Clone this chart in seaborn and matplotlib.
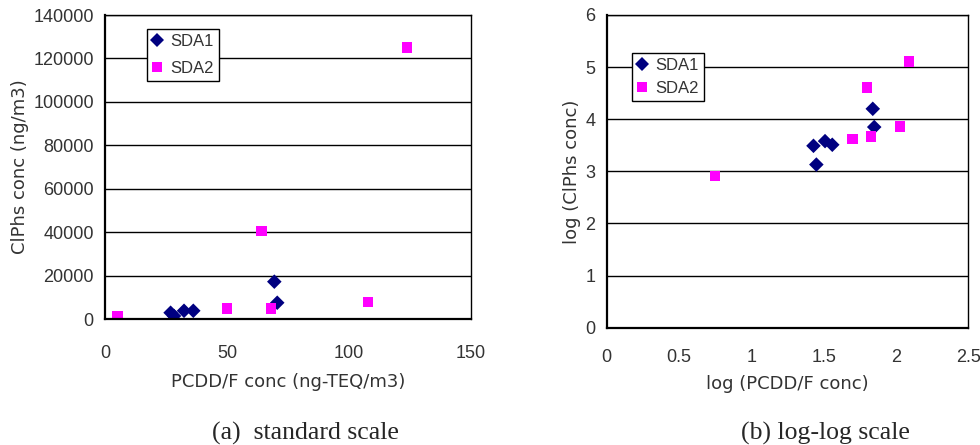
import numpy as np
import pandas as pd
import seaborn as sns
from matplotlib import pyplot as plt

# (a) standard scale
sda1_x = [26.9, 28.3, 32.4, 36.2, 69.4, 70.6]
sda1_y = [2900, 1400, 3800, 3800, 17200, 7500]
sda2_x = [5.2, 50.0, 64.2, 68.0, 107.8, 123.8]
sda2_y = [1400, 4900, 40500, 4900, 8000, 125000]

# (b) log-log scale
sda1_logx = [1.43, 1.45, 1.51, 1.56, 1.84, 1.85]
sda1_logy = [3.49, 3.13, 3.58, 3.51, 4.20, 3.85]
sda2_logx = [0.75, 1.70, 1.80, 1.83, 2.03, 2.09]
sda2_logy = [2.91, 3.62, 4.61, 3.67, 3.86, 5.11]

series = ["SDA1", "SDA2"]
x_ticks_a = [0, 50, 100, 150]
y_ticks_a = [0, 20000, 40000, 60000, 80000, 100000, 120000, 140000]
x_ticks_b = [0, 0.5, 1, 1.5, 2, 2.5]
x_ticklabels_b = ["0", "0.5", "1", "1.5", "2", "2.5"]
y_ticks_b = [0, 1, 2, 3, 4, 5, 6]

sns.set_style("white")
plt.rcParams['font.family'] = ['Liberation Sans Narrow', 'Liberation Sans', 'DejaVu Sans']

palette = {"SDA1": "#000080", "SDA2": "#FF00FF"}
markers = {"SDA1": "D", "SDA2": "s"}
txt = "#333333"


def make_frame(x1, y1, x2, y2):
    return pd.DataFrame({
        "x": x1 + x2,
        "y": y1 + y2,
        "series": [series[0]] * len(x1) + [series[1]] * len(x2),
    })


def style_axes(ax, xpad):
    ax.yaxis.grid(True, color="black", linewidth=1.0)
    ax.xaxis.grid(False)
    ax.set_axisbelow(True)
    for side in ["left", "bottom"]:
        ax.spines[side].set_linewidth(1.6)
    for side in ["top", "right"]:
        ax.spines[side].set_linewidth(1.0)
    for s in ax.spines.values():
        s.set_color("black")
    ax.tick_params(axis="x", direction="in", length=5, width=1, color="black",
                   labelsize=13, labelcolor=txt, pad=xpad)
    ax.tick_params(axis="y", direction="out", length=5, width=1, color="black",
                   labelsize=13, labelcolor=txt, pad=3)


def add_legend(ax, anchor, spacing):
    handles, labels = ax.get_legend_handles_labels()
    leg = ax.legend(handles, labels, loc="upper left", bbox_to_anchor=anchor,
                    frameon=True, fancybox=False, framealpha=1, edgecolor="black",
                    fontsize=12, handlelength=0.6, handletextpad=0.5,
                    borderpad=0.3, labelspacing=spacing, borderaxespad=0)
    leg.get_frame().set_linewidth(1.0)
    for t in leg.get_texts():
        t.set_color(txt)


fig = plt.figure(figsize=(9.8, 4.45), dpi=100)
ax1 = fig.add_axes([0.1071, 0.2831, 0.3735, 0.6831])
ax2 = fig.add_axes([0.619, 0.2636, 0.369, 0.7027])

df_a = make_frame(sda1_x, sda1_y, sda2_x, sda2_y)
sns.scatterplot(data=df_a, x="x", y="y", hue="series", style="series",
                palette=palette, markers=markers, s=55, linewidth=0, ax=ax1)
ax1.set_xlim(0, 150)
ax1.set_ylim(0, 140000)
ax1.set_xticks(x_ticks_a)
ax1.set_yticks(y_ticks_a)
style_axes(ax1, 18.5)
ax1.set_xlabel("PCDD/F conc (ng-TEQ/m3)", fontsize=13, color=txt, family="DejaVu Sans", labelpad=8)
ax1.set_ylabel("ClPhs conc (ng/m3)", fontsize=13, color=txt, family="DejaVu Sans", labelpad=3)
add_legend(ax1, (0.115, 0.955), 0.75)

df_b = make_frame(sda1_logx, sda1_logy, sda2_logx, sda2_logy)
sns.scatterplot(data=df_b, x="x", y="y", hue="series", style="series",
                palette=palette, markers=markers, s=55, linewidth=0, ax=ax2)
ax2.set_xlim(0, 2.5)
ax2.set_ylim(0, 6)
ax2.set_xticks(x_ticks_b)
ax2.set_xticklabels(x_ticklabels_b)
ax2.set_yticks(y_ticks_b)
style_axes(ax2, 15.5)
ax2.set_xlabel("log (PCDD/F conc)", fontsize=13, color=txt, family="DejaVu Sans", labelpad=6)
ax2.set_ylabel("log (ClPhs conc)", fontsize=13, color=txt, family="DejaVu Sans", labelpad=3)
add_legend(ax2, (0.07, 0.88), 0.5)

cap_font = ["Liberation Serif", "DejaVu Serif"]
fig.text(0.312, 0.012, "(a)  standard scale", fontsize=18.5, family=cap_font,
         ha="center", va="baseline")
fig.text(0.842, 0.012, "(b) log-log scale", fontsize=18.5, family=cap_font,
         ha="center", va="baseline")

fig.savefig("out.png", dpi=100, facecolor="white")
